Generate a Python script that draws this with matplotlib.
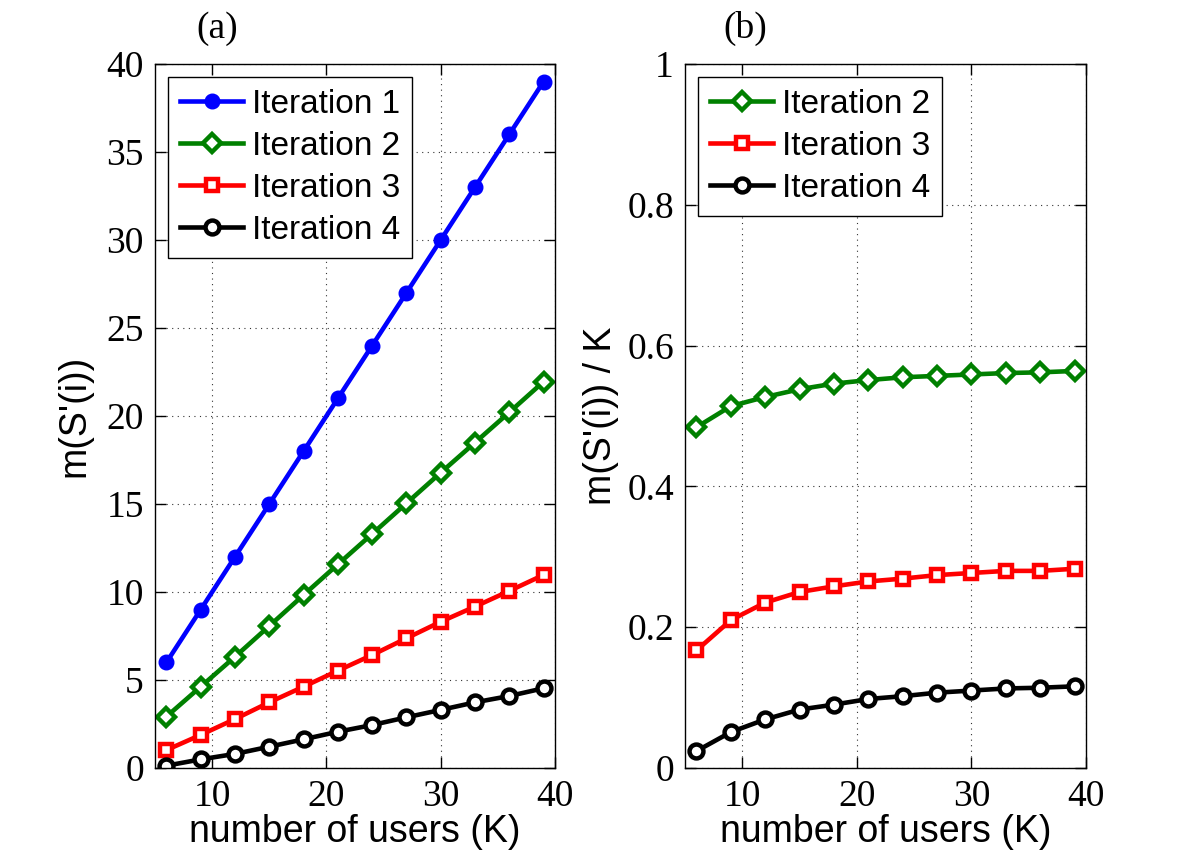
import matplotlib
matplotlib.use("Agg")
import matplotlib.pyplot as plt
import numpy as np

# number of users
users = [6, 9, 12, 15, 18, 21, 24, 27, 30, 33, 36, 39]

# (a) m(S'(i))
iter1 = [6, 9, 12, 15, 18, 21, 24, 27, 30, 33, 36, 39]
iter2 = [2.92, 4.62, 6.32, 8.07, 9.83, 11.57, 13.30, 15.04, 16.78, 18.49, 20.21, 21.95]
iter3 = [1.02, 1.88, 2.78, 3.73, 4.62, 5.53, 6.42, 7.37, 8.31, 9.17, 10.06, 10.97]
iter4 = [0.13, 0.49, 0.80, 1.21, 1.63, 2.06, 2.44, 2.88, 3.30, 3.73, 4.09, 4.53]

# (b) m(S'(i)) / K
ratio2 = [0.484, 0.514, 0.527, 0.538, 0.546, 0.551, 0.555, 0.557, 0.559, 0.561, 0.562, 0.564]
ratio3 = [0.167, 0.210, 0.235, 0.250, 0.258, 0.265, 0.269, 0.274, 0.277, 0.280, 0.280, 0.283]
ratio4 = [0.024, 0.051, 0.069, 0.083, 0.090, 0.098, 0.102, 0.107, 0.110, 0.113, 0.114, 0.116]

serif = "Liberation Serif"
sans = "Liberation Sans"

fig = plt.figure(figsize=(12, 8.64), dpi=100)
ax1 = fig.add_axes([155 / 1200, 96 / 864, 400 / 1200, 704 / 864])
ax2 = fig.add_axes([685 / 1200, 96 / 864, 401 / 1200, 704 / 864])

green = "#008000"
styles = {
    "Iteration 1": dict(color="blue", marker="o", markersize=10.5, markerfacecolor="blue"),
    "Iteration 2": dict(color=green, marker="D", markersize=9, markerfacecolor="white",
                        markeredgewidth=3.2),
    "Iteration 3": dict(color="red", marker="s", markersize=9, markerfacecolor="white",
                        markeredgewidth=3.2),
    "Iteration 4": dict(color="black", marker="o", markersize=10, markerfacecolor="white",
                        markeredgewidth=3.2),
}

for lab, ys in [("Iteration 1", iter1), ("Iteration 2", iter2),
                ("Iteration 3", iter3), ("Iteration 4", iter4)]:
    ax1.plot(users, ys, linewidth=3.3, label=lab, **styles[lab])

for lab, ys in [("Iteration 2", ratio2), ("Iteration 3", ratio3),
                ("Iteration 4", ratio4)]:
    ax2.plot(users, ys, linewidth=3.3, label=lab, **styles[lab])

ax1.set_xlim(5, 40)
ax1.set_ylim(0, 40)
ax1.set_yticks(np.arange(0, 41, 5))
ax2.set_xlim(5, 40)
ax2.set_ylim(0, 1)
ax2.set_yticks([0, 0.2, 0.4, 0.6, 0.8, 1])
ax2.set_yticklabels(["0", "0.2", "0.4", "0.6", "0.8", "1"])

for ax in (ax1, ax2):
    ax.set_xticks([10, 20, 30, 40])
    ax.grid(True, linestyle=(0, (1, 4)), color="#333333", linewidth=0.8)
    ax.tick_params(direction="in", length=8, width=1, top=True, right=True,
                   labelsize=27, pad=8)
    for t in ax.get_xticklabels() + ax.get_yticklabels():
        t.set_fontfamily(serif)
    for s in ax.spines.values():
        s.set_linewidth(1)
    ax.set_xlabel("number of users (K)", fontsize=27, family=sans, labelpad=0)
    leg = ax.legend(loc="upper left", prop={"family": sans, "size": 24},
                    fancybox=False, edgecolor="black", framealpha=1,
                    handlelength=1.9, borderaxespad=0.4, labelspacing=0.33,
                    handletextpad=0.25, borderpad=0.35)
    leg.get_frame().set_linewidth(1)

ax1.set_ylabel("m(S'(i))", fontsize=27, family=sans, labelpad=10)
ax2.set_ylabel("m(S'(i)) / K", fontsize=27, family=sans, labelpad=6)

ax1.text(0.155, 1.05, "(a)", transform=ax1.transAxes, ha="center", va="center",
         fontsize=27, family=serif)
ax2.text(0.15, 1.05, "(b)", transform=ax2.transAxes, ha="center", va="center",
         fontsize=27, family=serif)

fig.savefig("out.png", dpi=100)
